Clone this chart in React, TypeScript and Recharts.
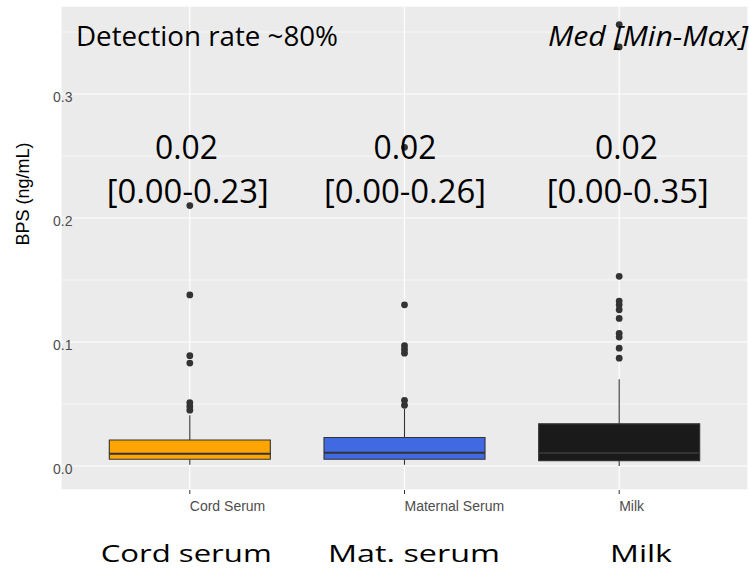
import React from 'react';
import {
  ComposedChart,
  XAxis,
  YAxis,
  Scatter,
  ReferenceArea,
  ReferenceLine,
  CartesianGrid,
} from 'recharts';

// ---- data ----
const categories = ['Cord Serum', 'Maternal Serum', 'Milk'];
const displayNames = ['Cord serum', 'Mat. serum', 'Milk'];
const positions = [1, 2, 3];
const whiskerLow = [0.001, 0.001, 0.0];
const q1 = [0.0054, 0.0054, 0.0043];
const median = [0.0099, 0.0107, 0.0105];
const q3 = [0.021, 0.023, 0.034];
const whiskerHigh = [0.041, 0.046, 0.07];
const cordOutliers = [0.045, 0.048, 0.051, 0.083, 0.089, 0.138, 0.21];
const maternalOutliers = [0.049, 0.053, 0.091, 0.094, 0.097, 0.13, 0.257];
const milkOutliers = [0.087, 0.095, 0.104, 0.107, 0.119, 0.126, 0.13, 0.133, 0.153, 0.338, 0.356];
const outliers = [cordOutliers, maternalOutliers, milkOutliers];
const fills = ['#FFA500', '#4169E1', '#1A1A1A'];
const medianLabels = ['0.02', '0.02', '0.02'];
const rangeLabels = ['[0.00-0.23]', '[0.00-0.26]', '[0.00-0.35]'];
const yTicks = [0, 0.1, 0.2, 0.3];
const yMinor = [0.05, 0.15, 0.25, 0.35];
const headerLeft = 'Detection rate ~80%';
const headerRight = 'Med [Min-Max]';
const yTitle = 'BPS (ng/mL)';

const X_DOMAIN: [number, number] = [0.4, 3.6];
const Y_DOMAIN: [number, number] = [-0.01935, 0.37097];
const HALF = 0.375;

const outlierPoints = outliers.flatMap((arr, i) => arr.map((v) => ({ x: positions[i], y: v })));

const XTick = (props: any) => {
  const { x, y, payload } = props;
  const idx = positions.indexOf(payload.value);
  return (
    <text x={x} y={y} dy={15} textAnchor="start" fill="#4D4D4D" fontSize={14} fontFamily="'Liberation Sans', Arial, sans-serif">
      {categories[idx]}
    </text>
  );
};

const YTick = (props: any) => {
  const { y, payload } = props;
  return (
    <text x={53} y={y} dy={8} textAnchor="start" fill="#4D4D4D" fontSize={14} fontFamily="'Liberation Sans', Arial, sans-serif">
      {payload.value.toFixed(1)}
    </text>
  );
};

const BIG = "'Open Sans', 'Noto Sans', sans-serif";

export default function App() {
  return (
    <div style={{ position: 'absolute', left: 0, top: 0, width: 749, height: 568, background: '#fff' }}>
      <ComposedChart
        width={749}
        height={568}
        margin={{ top: 6, right: 1, bottom: 0, left: 0 }}
        data={outlierPoints}
      >
        <XAxis
          type="number"
          dataKey="x"
          domain={X_DOMAIN}
          ticks={positions}
          allowDataOverflow
          axisLine={false}
          tickLine={{ stroke: '#333333', strokeWidth: 1 }}
          tickSize={4}
          height={78}
          tick={<XTick />}
          interval={0}
        />
        <YAxis
          type="number"
          dataKey="y"
          domain={Y_DOMAIN}
          ticks={yTicks}
          allowDataOverflow
          axisLine={false}
          tickLine={false}
          width={61}
          tick={<YTick />}
          interval={0}
        />
        <YAxis
          yAxisId="minor"
          type="number"
          domain={Y_DOMAIN}
          ticks={yMinor}
          allowDataOverflow
          hide
          interval={0}
        />
        <CartesianGrid
          fill="#EBEBEB"
          fillOpacity={1}
          stroke="#FFFFFF"
          strokeWidth={1.2}
          strokeDasharray=""
        />
        <CartesianGrid
          yAxisId="minor"
          vertical={false}
          stroke="#FFFFFF"
          strokeWidth={0.6}
          strokeDasharray=""
        />
        {positions.map((p, i) => (
          <ReferenceLine
            key={'wh' + p}
            segment={[{ x: p, y: q3[i] }, { x: p, y: whiskerHigh[i] }]}
            stroke="#333333"
            strokeWidth={1.1}
          />
        ))}
        {positions.map((p, i) => (
          <ReferenceLine
            key={'wl' + p}
            segment={[{ x: p, y: whiskerLow[i] }, { x: p, y: q1[i] }]}
            stroke="#333333"
            strokeWidth={1.1}
          />
        ))}
        {positions.map((p, i) => (
          <ReferenceArea
            key={'bx' + p}
            x1={p - HALF}
            x2={p + HALF}
            y1={q1[i]}
            y2={q3[i]}
            fill={fills[i]}
            fillOpacity={1}
            stroke="#333333"
            strokeWidth={1.1}
          />
        ))}
        {positions.map((p, i) => (
          <ReferenceLine
            key={'md' + p}
            segment={[{ x: p - HALF, y: median[i] }, { x: p + HALF, y: median[i] }]}
            stroke="#333333"
            strokeWidth={2.2}
          />
        ))}
        <Scatter
          dataKey="y"
          isAnimationActive={false}
          shape={(props: any) => <circle cx={props.cx} cy={props.cy} r={3.4} fill="#333333" />}
        />
      </ComposedChart>
      <svg
        width={749}
        height={568}
        style={{ position: 'absolute', left: 0, top: 0, pointerEvents: 'none' }}
      >
        <text x={23} y={194} transform="rotate(-90 23 194)" textAnchor="middle" dominantBaseline="central" fontSize={18} fill="#000" fontFamily="'Liberation Sans', Arial, sans-serif">
          {yTitle}
        </text>
        <text x={76} y={45.7} fontSize={27.5} fontFamily={BIG} fill="#000" textLength={262} lengthAdjust="spacingAndGlyphs">
          {headerLeft}
        </text>
        <text x={548} y={45.7} fontSize={27.5} fontStyle="italic" fontFamily={BIG} fill="#000" textLength={200} lengthAdjust="spacingAndGlyphs">
          {headerRight}
        </text>
        {[155, 373.5, 595].map((x, i) => (
          <text key={'ml' + i} x={x} y={159} fontSize={33.6} fontFamily={BIG} fill="#000" textLength={63} lengthAdjust="spacingAndGlyphs">
            {medianLabels[i]}
          </text>
        ))}
        {[106.7, 324, 546.7].map((x, i) => (
          <text key={'rl' + i} x={x} y={203} fontSize={32.5} fontFamily={BIG} fill="#000" textLength={162} lengthAdjust="spacingAndGlyphs">
            {rangeLabels[i]}
          </text>
        ))}
        {[100.7, 328, 610].map((x, i) => (
          <text key={'bl' + i} x={x} y={561.7} fontSize={23.4} fontFamily={BIG} fill="#000" textLength={[171, 172, 62][i]} lengthAdjust="spacingAndGlyphs">
            {displayNames[i]}
          </text>
        ))}
      </svg>
    </div>
  );
}
